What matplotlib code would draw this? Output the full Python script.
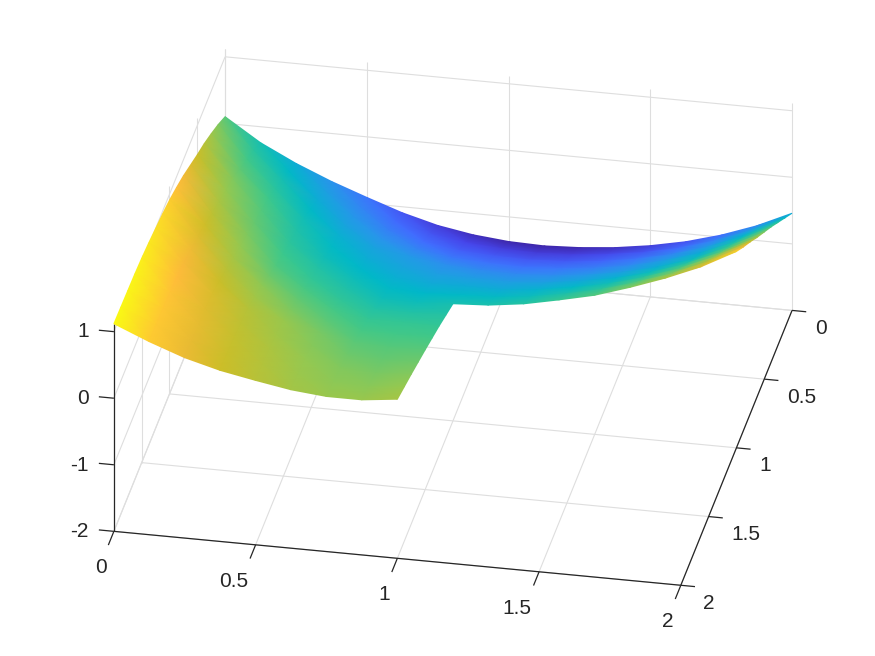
import numpy as np
import matplotlib
matplotlib.use('Agg')
import matplotlib.pyplot as plt
from matplotlib.collections import TriMesh
from matplotlib.colors import LinearSegmentedColormap, Normalize
from matplotlib.tri import Triangulation
from mpl_toolkits.mplot3d import proj3d

plt.rcParams['font.family'] = ['Liberation Sans', 'DejaVu Sans']

# Surface heights, one row per y; rows past y=1 stop at x=1 (L-shaped domain)
x_nodes = [0, 0.125, 0.25, 0.375, 0.5, 0.625, 0.75, 0.875, 1, 1.125, 1.25, 1.375, 1.5, 1.625, 1.75, 1.875, 2]
y_nodes = [0, 0.125, 0.25, 0.375, 0.5, 0.625, 0.75, 0.875, 1, 1.125, 1.25, 1.375, 1.5, 1.625, 1.75, 1.875, 2]
z_rows = [
	[0.10, -0.24, -0.50, -0.72, -0.91, -1.09, -1.23, -1.32, -1.37, -1.385, -1.36, -1.31, -1.23, -1.12, -0.97, -0.78, -0.54],
	[0.24, -0.11, -0.37, -0.605, -0.80, -0.965, -1.095, -1.18, -1.22, -1.235, -1.21, -1.155, -1.075, -0.96, -0.80, -0.60, -0.35],
	[0.36, 0.02, -0.24, -0.49, -0.69, -0.84, -0.96, -1.04, -1.07, -1.08, -1.055, -1.00, -0.915, -0.795, -0.635, -0.42, -0.16],
	[0.47, 0.13, -0.12, -0.375, -0.575, -0.715, -0.815, -0.89, -0.92, -0.93, -0.90, -0.845, -0.76, -0.63, -0.47, -0.24, 0.03],
	[0.56, 0.24, 0.00, -0.26, -0.46, -0.59, -0.67, -0.74, -0.77, -0.78, -0.75, -0.69, -0.60, -0.47, -0.30, -0.06, 0.21],
	[0.66, 0.325, 0.075, -0.18, -0.365, -0.49, -0.57, -0.625, -0.635, -0.64, -0.60, -0.525, -0.43, -0.29, -0.11, 0.12, 0.39],
	[0.76, 0.41, 0.15, -0.10, -0.27, -0.39, -0.47, -0.51, -0.50, -0.495, -0.445, -0.36, -0.255, -0.105, 0.075, 0.305, 0.58],
	[0.84, 0.495, 0.23, -0.015, -0.17, -0.285, -0.37, -0.395, -0.37, -0.35, -0.29, -0.195, -0.08, 0.08, 0.26, 0.49, 0.76],
	[0.91, 0.58, 0.31, 0.07, -0.07, -0.18, -0.27, -0.28, -0.24, -0.21, -0.14, -0.03, 0.09, 0.26, 0.45, 0.67, 0.95],
	[0.96, 0.66, 0.395, 0.18, 0.035, -0.075, -0.165, -0.17, -0.15],
	[1.00, 0.73, 0.48, 0.29, 0.14, 0.03, -0.06, -0.06, -0.06],
	[1.04, 0.78, 0.555, 0.375, 0.235, 0.12, 0.025, 0.015, 0.02],
	[1.07, 0.83, 0.63, 0.46, 0.33, 0.21, 0.11, 0.09, 0.10],
	[1.09, 0.86, 0.655, 0.495, 0.375, 0.26, 0.175, 0.15, 0.175],
	[1.10, 0.88, 0.68, 0.53, 0.42, 0.31, 0.24, 0.21, 0.25],
	[1.11, 0.89, 0.695, 0.55, 0.445, 0.345, 0.285, 0.27, 0.32],
	[1.12, 0.90, 0.71, 0.57, 0.47, 0.38, 0.33, 0.33, 0.39],
]

x_ticks = [0, 0.5, 1, 1.5, 2]
y_ticks = [0, 0.5, 1, 1.5, 2]
z_ticks = [-2, -1, 0, 1]
x_labels = ['0', '0.5', '1', '1.5', '2']
y_labels = ['0', '0.5', '1', '1.5', '2']
z_labels = ['-2', '-1', '0', '1']

Z_TOP = 1.12
GRID = '#dedede'
DARK = '#262626'

colormap = LinearSegmentedColormap.from_list('parula_like', [
	(0.00, (62 / 255, 38 / 255, 168 / 255)),
	(0.08, (70 / 255, 70 / 255, 235 / 255)),
	(0.17, (65 / 255, 110 / 255, 255 / 255)),
	(0.27, (40 / 255, 150 / 255, 235 / 255)),
	(0.40, (0 / 255, 185 / 255, 200 / 255)),
	(0.55, (60 / 255, 200 / 255, 140 / 255)),
	(0.68, (150 / 255, 200 / 255, 80 / 255)),
	(0.78, (205 / 255, 190 / 255, 40 / 255)),
	(0.88, (255 / 255, 185 / 255, 60 / 255)),
	(1.00, (250 / 255, 250 / 255, 20 / 255)),
])

fig = plt.figure(figsize=(8.75, 6.56), dpi=100)
ax = fig.add_axes([28.8 / 875, -85.2 / 656, 826 / 875, 826 / 656], projection='3d', proj_type='ortho')
ax.set_axis_off()
ax.patch.set_alpha(0)
ax.set_box_aspect((1, 1, 0.411))
ax.view_init(elev=29, azim=-78.9)
ax.set_xlim(0, 2, view_margin=0)
ax.set_ylim(2, 0, view_margin=0)
ax.set_zlim(-2, Z_TOP, view_margin=0)
M = ax.get_proj()


def seg(x, y, z, color, lw):
	ax.plot(x, y, z, color=color, lw=lw, solid_capstyle='butt', clip_on=False)


def label(x, y, z, s, ha):
	# tick label placed at the projected position of a 3D point
	px, py, _ = proj3d.proj_transform(x, y, z, M)
	ax.text2D(px, py, s, transform=ax.transData, ha=ha, va='center', fontsize=15, color=DARK)


# grid on the floor and the two back walls
for t in x_ticks:
	seg([t, t], [2, 0], [-2, -2], GRID, 0.8)
	seg([t, t], [0, 0], [-2, Z_TOP], GRID, 0.8)
for t in y_ticks:
	seg([0, 2], [t, t], [-2, -2], GRID, 0.8)
	seg([0, 0], [t, t], [-2, Z_TOP], GRID, 0.8)
for t in z_ticks:
	seg([0, 2], [0, 0], [t, t], GRID, 0.8)
	seg([0, 0], [0, 2], [t, t], GRID, 0.8)

# dark axes, ticks, labels
seg([0, 2], [2, 2], [-2, -2], DARK, 0.9)
seg([2, 2], [2, 0], [-2, -2], DARK, 0.9)
seg([0, 0], [2, 2], [-2, Z_TOP], DARK, 0.9)
for t, s in zip(x_ticks, x_labels):
	seg([t, t], [2, 2.1], [-2, -2], DARK, 0.9)
	label(t + 0.025, 2.26, -2, s, 'right')
for t, s in zip(y_ticks, y_labels):
	seg([2, 2.05], [t, t], [-2, -2], DARK, 0.9)
	label(2.08, t, -2.24, s, 'left')
for t, s in zip(z_ticks, z_labels):
	seg([0, -0.053], [2, 2], [t, t], DARK, 0.9)
	label(-0.088, 2, t - 0.04, s, 'right')

# surface nodes and triangles
xs, ys, zs = [], [], []
index = {}
for j, row in enumerate(z_rows):
	for i, z in enumerate(row):
		index[(i, j)] = len(xs)
		xs.append(x_nodes[i])
		ys.append(y_nodes[j])
		zs.append(z)
xs, ys, zs = np.array(xs), np.array(ys), np.array(zs)

triangles = []
for (i, j), a in index.items():
	if (i + 1, j + 1) in index:
		b, c, d = index[(i + 1, j)], index[(i + 1, j + 1)], index[(i, j + 1)]
		triangles += [[a, b, c], [a, c, d]]
triangles = np.array(triangles)

# gouraud triangles in the projected plane of the 3D axes, painted back to front
px, py, pz = proj3d.proj_transform(xs, ys, zs, M)
triangles = triangles[np.argsort(-pz[triangles].mean(axis=1))]
mesh = TriMesh(Triangulation(np.asarray(px), np.asarray(py), triangles),
	cmap=colormap, norm=Normalize(zs.min(), zs.max()))
mesh.set_array(zs)
mesh.set_transform(ax.transData)
mesh.do_3d_projection = lambda: 0
ax.add_collection(mesh, autolim=False)
mesh.set_clip_on(False)

fig.savefig('out.png', dpi=100)
